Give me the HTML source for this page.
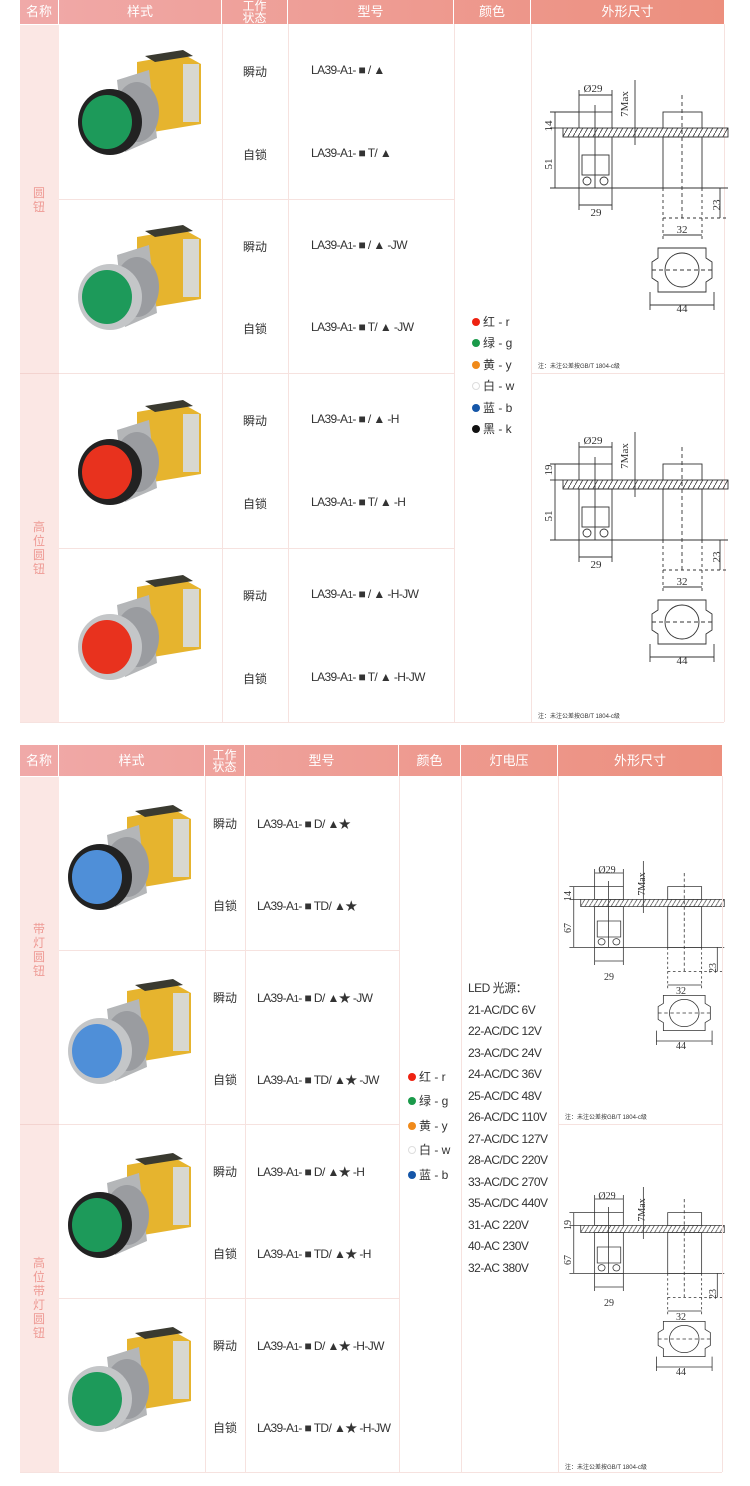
<!DOCTYPE html>
<html><head><meta charset="utf-8">
<style>
*{margin:0;padding:0;box-sizing:border-box}
body{width:750px;height:1486px;background:#fff;position:relative;font-family:"Liberation Sans","Noto Sans CJK SC",sans-serif;color:#333;overflow:hidden}
.a{position:absolute}
.hd{position:absolute;height:24px;background:linear-gradient(90deg,#f0a9a8,#ec8f7e);}
.hc{position:absolute;color:#fff;font-size:13px;text-align:center;border-right:1px solid #fff;display:flex;align-items:center;justify-content:center;line-height:12px}
.vl{position:absolute;width:1px;background:#f6e2df}
.hl{position:absolute;height:1px;background:#f6e2df}
.nm{position:absolute;background:#fbe7e4}
.vt{position:absolute;color:#ee9a94;font-size:12px;width:14px;line-height:14px;text-align:center}
.t{position:absolute;font-size:12px;white-space:nowrap}
.m{letter-spacing:-0.6px}
.dot{display:inline-block;width:8px;height:8px;border-radius:50%;margin-right:3px;vertical-align:0}
</style></head><body>
<svg width="0" height="0" style="position:absolute">
<defs>
<symbol id="btn" viewBox="0 0 150 130">
<polygon points="72,22 118,14 136,24 136,84 88,92 72,84" fill="#e6b42e"/>
<polygon points="80,16 118,10 128,16 90,22" fill="#3a3a30"/>
<rect x="118" y="24" width="16" height="58" fill="#d8d8d0"/>
<polygon points="52,40 84,30 92,98 60,112" fill="#b4b6b8"/>
<ellipse cx="72" cy="72" rx="22" ry="30" fill="#9a9ca0"/>
<ellipse cx="45" cy="82" rx="32" ry="33" fill="#222"/>
<ellipse cx="42" cy="82" rx="25" ry="27" fill="currentColor"/>
</symbol>
<symbol id="btn2" viewBox="0 0 150 130">
<polygon points="72,22 118,14 136,24 136,84 88,92 72,84" fill="#e6b42e"/>
<polygon points="80,16 118,10 128,16 90,22" fill="#3a3a30"/>
<rect x="118" y="24" width="16" height="58" fill="#d8d8d0"/>
<polygon points="52,40 84,30 92,98 60,112" fill="#b4b6b8"/>
<ellipse cx="72" cy="72" rx="22" ry="30" fill="#9a9ca0"/>
<ellipse cx="45" cy="82" rx="32" ry="33" fill="#c4c6c8"/>
<ellipse cx="42" cy="82" rx="25" ry="27" fill="currentColor"/>
</symbol>
<pattern id="hat" width="5" height="9" patternUnits="userSpaceOnUse"><line x1="0" y1="9" x2="5" y2="0" stroke="#333" stroke-width="0.8"/></pattern>
<g id="drw" fill="none" stroke="#333" stroke-width="0.9">
<rect x="33" y="58" width="165" height="9" fill="url(#hat)"/>
<rect x="49" y="42" width="33" height="16" fill="#fff"/>
<rect x="49" y="67" width="33" height="51"/>
<rect x="52" y="85" width="27" height="20"/>
<line x1="65" y1="35" x2="65" y2="118"/>
<circle cx="57" cy="111" r="4"/><circle cx="74" cy="111" r="4"/>
<line x1="49" y1="25" x2="82" y2="25"/><line x1="49" y1="20" x2="49" y2="42"/><line x1="82" y1="20" x2="82" y2="42"/>
<line x1="105" y1="10" x2="105" y2="75"/>
<line x1="20" y1="42" x2="49" y2="42"/><line x1="25" y1="42" x2="25" y2="118"/><line x1="20" y1="58" x2="33" y2="58"/>
<line x1="20" y1="118" x2="198" y2="118"/>
<line x1="49" y1="118" x2="49" y2="140"/><line x1="82" y1="118" x2="82" y2="140"/><line x1="49" y1="135" x2="82" y2="135"/>
<rect x="133" y="42" width="39" height="16" fill="#fff"/>
<rect x="133" y="67" width="39" height="51"/>
<line x1="152" y1="25" x2="152" y2="150" stroke-dasharray="4 3"/>
<line x1="133" y1="118" x2="133" y2="170" stroke-dasharray="3 3"/><line x1="172" y1="118" x2="172" y2="170" stroke-dasharray="3 3"/>
<line x1="133" y1="148" x2="198" y2="148" stroke-dasharray="3 3"/>
<line x1="190" y1="118" x2="190" y2="148"/>
<line x1="133" y1="165" x2="172" y2="165"/>
<polygon points="128,178 176,178 176,188 182,192 182,208 176,212 176,222 128,222 128,212 122,208 122,192 128,188"/>
<circle cx="152" cy="200" r="17"/>
<line x1="122" y1="200" x2="182" y2="200" stroke-dasharray="4 3"/>
<line x1="120" y1="222" x2="120" y2="240"/><line x1="184" y1="222" x2="184" y2="240"/><line x1="120" y1="235" x2="184" y2="235"/>
</g>
</defs>
</svg>

<!-- TABLE 1 -->
<div class="hd" style="left:20px;top:0;width:704px"></div>
<div class="hc" style="left:20px;top:0;width:39px;height:24px">名称</div>
<div class="hc" style="left:59px;top:0;width:163px;height:24px">样式</div>
<div class="hc" style="left:222px;top:0;width:66px;height:24px;font-size:12px">工作<br>状态</div>
<div class="hc" style="left:288px;top:0;width:166px;height:24px">型号</div>
<div class="hc" style="left:454px;top:0;width:77px;height:24px">颜色</div>
<div class="hc" style="left:531px;top:0;width:193px;height:24px;border:none">外形尺寸</div>
<div class="nm" style="left:20px;top:25px;width:39px;height:697px"></div>
<div class="hl" style="left:20px;top:373px;width:39px;background:#f3d3cf"></div>
<div class="vl" style="left:222px;top:24px;height:698px"></div>
<div class="vl" style="left:288px;top:24px;height:698px"></div>
<div class="vl" style="left:454px;top:24px;height:698px"></div>
<div class="vl" style="left:531px;top:24px;height:698px"></div>
<div class="vl" style="left:724px;top:24px;height:698px"></div>
<div class="hl" style="left:59px;top:199px;width:395px"></div>
<div class="hl" style="left:59px;top:373px;width:395px"></div>
<div class="hl" style="left:531px;top:373px;width:193px"></div>
<div class="hl" style="left:59px;top:548px;width:395px"></div>
<div class="hl" style="left:20px;top:722px;width:704px"></div>
<div class="vt" style="left:32px;top:186px">圆<br>钮</div>
<div class="vt" style="left:32px;top:520px">高<br>位<br>圆<br>钮</div>

<svg class="a" style="left:65px;top:40px;color:#1d9a5a" width="150" height="130"><use href="#btn"/></svg>
<svg class="a" style="left:65px;top:215px;color:#1d9a5a" width="150" height="130"><use href="#btn2"/></svg>
<svg class="a" style="left:65px;top:390px;color:#e8321e" width="150" height="130"><use href="#btn"/></svg>
<svg class="a" style="left:65px;top:565px;color:#e8321e" width="150" height="130"><use href="#btn2"/></svg>

<div class="t" style="left:243px;top:63px">瞬动</div>
<div class="t" style="left:243px;top:146px">自锁</div>
<div class="t" style="left:243px;top:238px">瞬动</div>
<div class="t" style="left:243px;top:320px">自锁</div>
<div class="t" style="left:243px;top:412px">瞬动</div>
<div class="t" style="left:243px;top:495px">自锁</div>
<div class="t" style="left:243px;top:587px">瞬动</div>
<div class="t" style="left:243px;top:670px">自锁</div>

<div class="t m" style="left:311px;top:63px">LA39-A<small>1</small>- ■ / ▲</div>
<div class="t m" style="left:311px;top:146px">LA39-A<small>1</small>- ■ T/ ▲</div>
<div class="t m" style="left:311px;top:238px">LA39-A<small>1</small>- ■ / ▲ -JW</div>
<div class="t m" style="left:311px;top:320px">LA39-A<small>1</small>- ■ T/ ▲ -JW</div>
<div class="t m" style="left:311px;top:412px">LA39-A<small>1</small>- ■ / ▲ -H</div>
<div class="t m" style="left:311px;top:495px">LA39-A<small>1</small>- ■ T/ ▲ -H</div>
<div class="t m" style="left:311px;top:587px">LA39-A<small>1</small>- ■ / ▲ -H-JW</div>
<div class="t m" style="left:311px;top:670px">LA39-A<small>1</small>- ■ T/ ▲ -H-JW</div>

<div class="t" style="left:472px;top:313px"><span class="dot" style="background:#e21"></span>红 - r</div>
<div class="t" style="left:472px;top:334px"><span class="dot" style="background:#1a9a4a"></span>绿 - g</div>
<div class="t" style="left:472px;top:356px"><span class="dot" style="background:#f08a1a"></span>黄 - y</div>
<div class="t" style="left:472px;top:377px"><span class="dot" style="border:1px solid #ddd"></span>白 - w</div>
<div class="t" style="left:472px;top:399px"><span class="dot" style="background:#1556a8"></span>蓝 - b</div>
<div class="t" style="left:472px;top:420px"><span class="dot" style="background:#111"></span>黑 - k</div>

<svg class="a" style="left:0;top:0" width="750" height="1486" font-family="Liberation Serif,serif" font-size="11" fill="#333">
<use href="#drw" transform="translate(530,70)"/>
<use href="#drw" transform="translate(530,422)"/>
<use href="#drw" transform="translate(552,853) scale(0.87,0.8)"/>
<use href="#drw" transform="translate(552,1179) scale(0.87,0.8)"/>
<g text-anchor="middle">
<text x="593" y="92">Ø29</text><text x="596" y="216">29</text><text x="682" y="233">32</text><text x="682" y="312">44</text>
<text transform="translate(552,126) rotate(-90)">14</text><text transform="translate(552,164) rotate(-90)">51</text>
<text transform="translate(628,104) rotate(-90)">7Max</text><text transform="translate(720,205) rotate(-90)">23</text>
<text x="593" y="444">Ø29</text><text x="596" y="568">29</text><text x="682" y="585">32</text><text x="682" y="664">44</text>
<text transform="translate(552,470) rotate(-90)">19</text><text transform="translate(552,516) rotate(-90)">51</text>
<text transform="translate(628,456) rotate(-90)">7Max</text><text transform="translate(720,557) rotate(-90)">23</text>
<g font-size="10">
<text x="607" y="873">Ø29</text><text x="609" y="980">29</text><text x="681" y="994">32</text><text x="681" y="1049">44</text>
<text transform="translate(571,896) rotate(-90)">14</text><text transform="translate(571,928) rotate(-90)">67</text>
<text transform="translate(645,884) rotate(-90)">7Max</text><text transform="translate(716,968) rotate(-90)">23</text>
<text x="607" y="1199">Ø29</text><text x="609" y="1306">29</text><text x="681" y="1320">32</text><text x="681" y="1375">44</text>
<text transform="translate(571,1225) rotate(-90)">19</text><text transform="translate(571,1260) rotate(-90)">67</text>
<text transform="translate(645,1210) rotate(-90)">7Max</text><text transform="translate(716,1294) rotate(-90)">23</text>
</g></g>
<g font-family="Liberation Sans,Noto Sans CJK SC,sans-serif" font-size="6">
<text x="538" y="368">注：未注公差按GB/T 1804-c级</text>
<text x="538" y="718">注：未注公差按GB/T 1804-c级</text>
<text x="565" y="1119">注：未注公差按GB/T 1804-c级</text>
<text x="565" y="1469">注：未注公差按GB/T 1804-c级</text>
</g>
</svg>

<!-- TABLE 2 -->
<div class="hd" style="left:20px;top:745px;width:702px;height:31px"></div>
<div class="hc" style="left:20px;top:745px;width:39px;height:31px">名称</div>
<div class="hc" style="left:59px;top:745px;width:146px;height:31px">样式</div>
<div class="hc" style="left:205px;top:745px;width:40px;height:31px;font-size:12px">工作<br>状态</div>
<div class="hc" style="left:245px;top:745px;width:154px;height:31px">型号</div>
<div class="hc" style="left:399px;top:745px;width:62px;height:31px">颜色</div>
<div class="hc" style="left:461px;top:745px;width:97px;height:31px">灯电压</div>
<div class="hc" style="left:558px;top:745px;width:164px;height:31px;border:none">外形尺寸</div>
<div class="nm" style="left:20px;top:777px;width:39px;height:695px"></div>
<div class="hl" style="left:20px;top:1124px;width:39px;background:#f3d3cf"></div>
<div class="vl" style="left:205px;top:776px;height:696px"></div>
<div class="vl" style="left:245px;top:776px;height:696px"></div>
<div class="vl" style="left:399px;top:776px;height:696px"></div>
<div class="vl" style="left:461px;top:776px;height:696px"></div>
<div class="vl" style="left:558px;top:776px;height:696px"></div>
<div class="vl" style="left:722px;top:776px;height:696px"></div>
<div class="hl" style="left:59px;top:950px;width:340px"></div>
<div class="hl" style="left:59px;top:1124px;width:340px"></div>
<div class="hl" style="left:558px;top:1124px;width:164px"></div>
<div class="hl" style="left:59px;top:1298px;width:340px"></div>
<div class="hl" style="left:20px;top:1472px;width:702px"></div>
<div class="vt" style="left:32px;top:922px">带<br>灯<br>圆<br>钮</div>
<div class="vt" style="left:32px;top:1256px">高<br>位<br>带<br>灯<br>圆<br>钮</div>

<svg class="a" style="left:55px;top:795px;color:#4f8fd8" width="150" height="130"><use href="#btn"/></svg>
<svg class="a" style="left:55px;top:969px;color:#4f8fd8" width="150" height="130"><use href="#btn2"/></svg>
<svg class="a" style="left:55px;top:1143px;color:#1d9a5a" width="150" height="130"><use href="#btn"/></svg>
<svg class="a" style="left:55px;top:1317px;color:#1d9a5a" width="150" height="130"><use href="#btn2"/></svg>

<div class="t" style="left:213px;top:815px">瞬动</div>
<div class="t" style="left:213px;top:897px">自锁</div>
<div class="t" style="left:213px;top:989px">瞬动</div>
<div class="t" style="left:213px;top:1071px">自锁</div>
<div class="t" style="left:213px;top:1163px">瞬动</div>
<div class="t" style="left:213px;top:1245px">自锁</div>
<div class="t" style="left:213px;top:1337px">瞬动</div>
<div class="t" style="left:213px;top:1419px">自锁</div>

<div class="t m" style="left:257px;top:815px">LA39-A<small>1</small>- ■ D/ ▲★</div>
<div class="t m" style="left:257px;top:897px">LA39-A<small>1</small>- ■ TD/ ▲★</div>
<div class="t m" style="left:257px;top:989px">LA39-A<small>1</small>- ■ D/ ▲★ -JW</div>
<div class="t m" style="left:257px;top:1071px">LA39-A<small>1</small>- ■ TD/ ▲★ -JW</div>
<div class="t m" style="left:257px;top:1163px">LA39-A<small>1</small>- ■ D/ ▲★ -H</div>
<div class="t m" style="left:257px;top:1245px">LA39-A<small>1</small>- ■ TD/ ▲★ -H</div>
<div class="t m" style="left:257px;top:1337px">LA39-A<small>1</small>- ■ D/ ▲★ -H-JW</div>
<div class="t m" style="left:257px;top:1419px">LA39-A<small>1</small>- ■ TD/ ▲★ -H-JW</div>

<div class="t" style="left:408px;top:1068px"><span class="dot" style="background:#e21"></span>红 - r</div>
<div class="t" style="left:408px;top:1092px"><span class="dot" style="background:#1a9a4a"></span>绿 - g</div>
<div class="t" style="left:408px;top:1117px"><span class="dot" style="background:#f08a1a"></span>黄 - y</div>
<div class="t" style="left:408px;top:1141px"><span class="dot" style="border:1px solid #ddd"></span>白 - w</div>
<div class="t" style="left:408px;top:1166px"><span class="dot" style="background:#1556a8"></span>蓝 - b</div>

<div class="t" style="left:468px;top:978px;line-height:21.5px;font-size:12px;letter-spacing:-0.5px">LED 光源：<br>21-AC/DC 6V<br>22-AC/DC 12V<br>23-AC/DC 24V<br>24-AC/DC 36V<br>25-AC/DC 48V<br>26-AC/DC 110V<br>27-AC/DC 127V<br>28-AC/DC 220V<br>33-AC/DC 270V<br>35-AC/DC 440V<br>31-AC 220V<br>40-AC 230V<br>32-AC 380V</div>
</body></html>
